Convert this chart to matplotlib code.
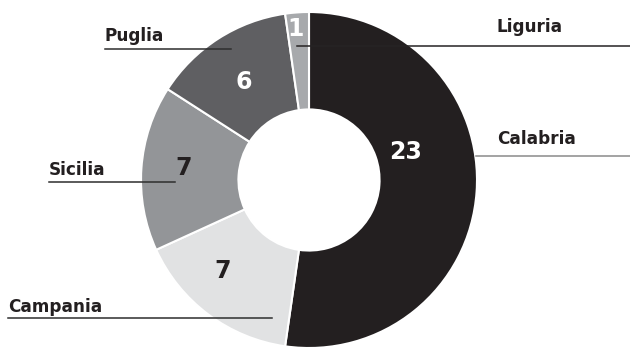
import numpy as np
import matplotlib
matplotlib.use("Agg")
import matplotlib.pyplot as plt

# regions and counts, clockwise from the top
regions = ["Calabria", "Campania", "Sicilia", "Puglia", "Liguria"]
counts = [23, 7, 7, 6, 1]
colors = ["#231f20", "#e1e2e3", "#939598", "#5f5f62", "#a7a9ac"]
num_colors = ["white", "#231f20", "#231f20", "white", "white"]

W, H = 630, 348
fig = plt.figure(figsize=(W / 100, H / 100), dpi=100)
ax = fig.add_axes([0, 0, 1, 1])

cx, cy, R = 309, H - 180, 168
wedges, _ = ax.pie(counts, radius=R, center=(cx, cy), startangle=90,
                   counterclock=False, colors=colors,
                   wedgeprops=dict(width=R * 0.58, edgecolor="white", linewidth=1.5))
ax.set_xlim(0, W)
ax.set_ylim(0, H)
ax.set_aspect("equal")
ax.axis("off")

# numbers on the ring
num_pos = {"Calabria": (406, 152), "Campania": (223, 271), "Sicilia": (184, 168),
           "Puglia": (244, 82), "Liguria": (296, 29)}
for name, n, c in zip(regions, counts, num_colors):
    x, y = num_pos[name]
    ax.text(x, H - y, str(n), color=c, fontsize=17, fontweight="bold",
            ha="center", va="center", family="DejaVu Sans")

# region names with underline leaders (text x, baseline y, line x0, x1, line y, line colour)
lab = {"Liguria": (497, 32, 297, 630, 46, "#262324"),
       "Calabria": (497, 144, 476, 630, 156, "#8a8a8a"),
       "Puglia": (105, 41, 105, 231, 49, "#2e2e2e"),
       "Sicilia": (49, 175, 49, 175, 182, "#2e2e2e"),
       "Campania": (8, 312, 8, 272, 318, "#2e2e2e")}
for name in regions:
    tx, ty, x0, x1, ly, lc = lab[name]
    ax.text(tx, H - ty, name, color="#231f20", fontsize=12.2, fontweight="bold",
            ha="left", va="baseline", family="DejaVu Sans")
    ax.plot([x0, x1], [H - ly, H - ly], color=lc, lw=1.1, zorder=3)

fig.savefig("out.png", dpi=100)
